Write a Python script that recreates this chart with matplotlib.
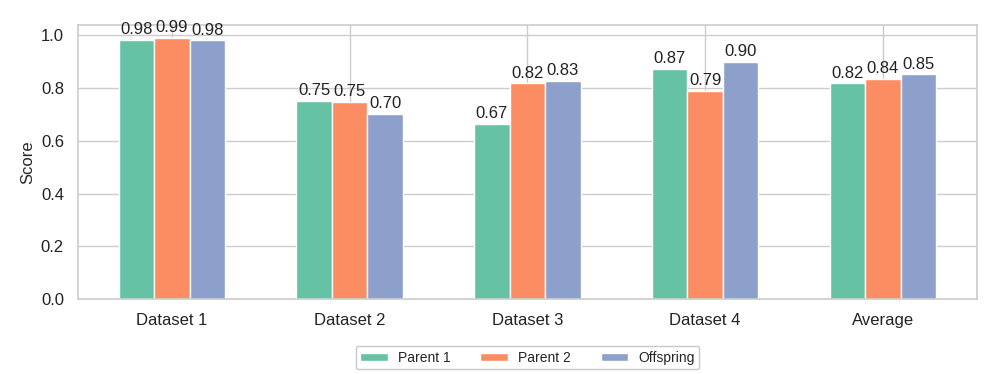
import matplotlib
matplotlib.use("Agg")
import matplotlib.pyplot as plt
import numpy as np
import seaborn as sns

categories = ["Dataset 1", "Dataset 2", "Dataset 3", "Dataset 4", "Average"]
series_names = ["Parent 1", "Parent 2", "Offspring"]
parent1 = [0.982, 0.752, 0.665, 0.872, 0.818]
parent2 = [0.990, 0.747, 0.818, 0.790, 0.836]
offspring = [0.981, 0.701, 0.827, 0.899, 0.852]
yticks = [0.0, 0.2, 0.4, 0.6, 0.8, 1.0]

sns.set_theme(style="whitegrid")
plt.rcParams['font.family'] = ['Liberation Sans', 'DejaVu Sans']
colors = sns.color_palette("Set2", 3)

fig = plt.figure(figsize=(9.97, 3.74), dpi=100)
ax = fig.add_axes([0.078, 0.2005, 0.902, 0.7325])

x = np.arange(len(categories))
w = 0.2
for i, (vals, name) in enumerate(zip([parent1, parent2, offspring], series_names)):
    bars = ax.bar(x + (i - 1) * w, vals, w, label=name, color=colors[i],
                  edgecolor="white", linewidth=1.0, zorder=2)
    ax.bar_label(bars, fmt="%.2f", padding=2, fontsize=12, color="#222222")

ax.set_xticks(x)
ax.set_xticklabels(categories, fontsize=12)
ax.set_yticks(yticks)
ax.set_yticklabels([f"{t:.1f}" for t in yticks], fontsize=12)
ax.set_ylabel("Score", fontsize=12)
ax.grid(True, color="#cccccc", linewidth=1)
ax.set_axisbelow(True)
for s in ax.spines.values():
    s.set_color("#cccccc")
    s.set_linewidth(1.2)
ax.tick_params(axis="both", colors="#222222", labelcolor="#222222", pad=4)

leg = ax.legend(loc="upper center", bbox_to_anchor=(0.5, -0.145), ncol=3,
                fontsize=10, frameon=True, fancybox=True,
                handlelength=2.0, handleheight=0.5, handletextpad=0.7,
                columnspacing=2.15, borderpad=0.35)
leg.get_frame().set_edgecolor("#bbbbbb")

fig.savefig("out.png", dpi=100)
